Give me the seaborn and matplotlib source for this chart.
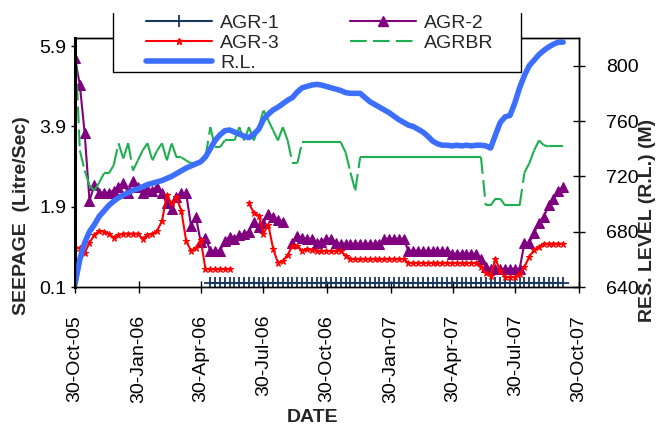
import numpy as np
import pandas as pd
import matplotlib
matplotlib.use("Agg")
import matplotlib.pyplot as plt
import matplotlib.dates as mdates
from matplotlib.collections import LineCollection
from matplotlib.lines import Line2D
from matplotlib.patches import Rectangle
import seaborn as sns

N = None
# weekly readings starting 30-Oct-2005
week_start = "2005-10-30"

agr1 = [N, N, N, N, N, N, N, N, N, N, N, N, N, N, N, N, N, N, N, N,
        N, N, N, N, N, N, N, N, 0.0, 0.0, 0.0, 0.0, 0.0, 0.0, 0.0, 0.0, 0.0, 0.0, 0.0, 0.0,
        0.0, 0.0, 0.0, 0.0, 0.0, 0.0, 0.0, 0.0, 0.0, 0.0, 0.0, 0.0, 0.0, 0.0, 0.0, 0.0, 0.0, 0.0, 0.0, 0.0,
        0.0, 0.0, 0.0, 0.0, 0.0, 0.0, 0.0, 0.0, 0.0, 0.0, 0.0, 0.0, 0.0, 0.0, 0.0, 0.0, 0.0, 0.0, 0.0, 0.0,
        0.0, 0.0, 0.0, 0.0, 0.0, 0.0, 0.0, 0.0, 0.0, 0.0, 0.0, 0.0, 0.0, 0.0, 0.0, 0.0, 0.0, 0.0, 0.0, 0.0,
        0.0, 0.0]

agr2 = [5.60, 4.93, 3.73, 2.05, 2.43, 2.25, 2.25, 2.25, 2.30, 2.40,
        2.48, 2.25, 2.55, 2.40, 2.23, 2.35, 2.30, 2.40, 2.23, 1.98,
        1.85, 2.15, 2.23, 2.23, 1.43, 1.65, 1.03, 1.13, 0.80, 0.80,
        0.80, 1.05, 1.15, 1.10, 1.20, 1.23, 1.28, 1.53, 1.40, 1.50,
        1.73, 1.65, 1.58, 1.53, N, 1.00, 1.18, 1.13, 1.10, 1.10,
        1.00, 1.03, 1.10, 1.10, 1.00, 0.98, 0.98, 0.98, 0.98, 0.98,
        0.98, 0.98, 0.98, 0.98, 1.10, 1.10, 1.10, 1.10, 1.10, 0.80,
        0.80, 0.80, 0.80, 0.80, 0.80, 0.80, 0.80, 0.80, 0.73, 0.73,
        0.73, 0.73, 0.73, 0.73, 0.60, 0.40, 0.35, 0.35, 0.35, 0.35,
        0.35, 0.35, 0.35, 1.00, 1.00, 1.25, 1.50, 1.65, 1.93, 2.08,
        2.30, 2.40]

agr3 = [0.88, 0.88, 0.75, 1.00, 1.20, 1.30, 1.28, 1.23, 1.13, 1.20,
        1.23, 1.23, 1.23, 1.23, 1.10, 1.20, 1.23, 1.30, 1.55, 2.18,
        1.98, 2.13, 1.80, 1.05, 0.80, 0.88, 1.08, 0.35, 0.35, 0.35,
        0.35, 0.35, 0.35, N, N, N, 1.98, 1.75, 1.68, 1.23,
        1.45, 0.85, 0.50, 0.55, 0.70, 0.93, 0.93, 0.80, 0.85, 0.83,
        0.80, 0.80, 0.80, 0.80, 0.80, 0.80, 0.68, 0.60, 0.60, 0.60,
        0.60, 0.60, 0.60, 0.60, 0.60, 0.60, 0.60, 0.60, 0.60, 0.50,
        0.50, 0.50, 0.50, 0.50, 0.50, 0.50, 0.50, 0.50, 0.50, 0.50,
        0.50, 0.50, 0.50, 0.50, 0.40, 0.25, 0.18, 0.60, 0.30, 0.15,
        0.15, 0.15, 0.23, 0.40, 0.65, 0.83, 0.90, 0.98, 0.98, 0.98,
        0.98, 0.98]

agrbr = [6.10, 3.30, 2.80, 2.43, 2.30, 2.50, 2.73, 2.73, 2.93, 3.48,
         3.10, 3.48, 2.80, 3.05, 3.30, 3.48, 3.05, 3.30, 3.48, 3.05,
         3.48, 3.13, 3.13, 3.05, 2.98, 2.98, 2.98, 3.13, 3.88, 3.38,
         3.38, 3.55, 3.55, 3.55, 3.88, 3.55, 3.88, 3.55, 3.88, 4.30,
         4.05, 3.80, 3.55, 3.88, 3.55, 2.98, 2.98, 3.50, 3.50, 3.50,
         3.50, 3.50, 3.50, 3.50, 3.50, 3.50, 3.25, 2.75, 2.30, 3.13,
         3.13, 3.13, 3.13, 3.13, 3.13, 3.13, 3.13, 3.13, 3.13, 3.13,
         3.13, 3.13, 3.13, 3.13, 3.13, 3.13, 3.13, 3.13, 3.13, 3.13,
         3.13, 3.13, 3.13, 3.13, 3.13, 1.93, 1.93, 2.10, 2.10, 1.93,
         1.93, 1.93, 1.93, 2.75, 2.98, 3.30, 3.55, 3.43, 3.40, 3.40,
         3.40, 3.40]

rl_level = [642, 660, 672, 680, 685, 691, 695, 699, 702, 704.5,
            706.5, 708, 710, 711, 712.5, 714, 715, 716, 717, 718.5,
            720, 722, 724, 726, 727.5, 729, 730.5, 734, 740, 746,
            750, 753, 753.5, 752, 750.5, 749, 748, 750.5, 754, 761,
            765, 768, 770, 772.5, 775, 777, 781, 784, 785, 786,
            786.5, 786, 785, 784, 783, 782, 780.5, 780, 780, 780,
            777, 774, 772, 770, 768, 766, 763.5, 761, 759, 757,
            756, 754, 752, 749, 745.5, 743.5, 742.5, 742.5, 742, 742.5,
            742, 742.5, 742, 742.5, 742.5, 742, 740.5, 750, 759, 763,
            764, 773, 784, 793, 800, 804, 808, 811, 813.5, 815.5,
            817, 817]

tick_labels = ["30-Oct-05", "30-Jan-06", "30-Apr-06", "30-Jul-06", "30-Oct-06",
               "30-Jan-07", "30-Apr-07", "30-Jul-07", "30-Oct-07"]
seep_ticks = [-0.1, 1.9, 3.9, 5.9]
seep_tick_labels = ["0.1", "1.9", "3.9", "5.9"]
rl_ticks = [640, 680, 720, 760, 800]

C_AGR1 = "#17375E"
C_AGR2 = "#800080"
C_AGR3 = "#FF0000"
C_AGRBR = "#1DAF50"
C_RL = "#3C6EFF"

sns.set_theme(style="white")
plt.rcParams["font.family"] = ["Liberation Sans", "DejaVu Sans"]

dates = pd.date_range(week_start, periods=len(rl_level), freq="7D")


def frame(vals):
    s = pd.Series(np.array(vals, dtype=float))
    df = pd.DataFrame({"date": dates, "value": s, "seg": s.isna().cumsum()})
    return df.dropna()


fig = plt.figure(figsize=(6.56, 4.28), dpi=100)
fig.patch.set_facecolor("white")
ax = fig.add_axes([75 / 656, 141 / 428, 504 / 656, 249 / 428])
ax2 = ax.twinx()

sns.lineplot(data=frame(agr1), x="date", y="value", units="seg", estimator=None,
             color=C_AGR1, lw=1.5, marker="+", ms=9, mew=1.3, mec=C_AGR1, ax=ax, legend=False)
sns.lineplot(data=frame(agr2), x="date", y="value", units="seg", estimator=None,
             color=C_AGR2, lw=1.5, marker="^", ms=7, mec=C_AGR2, mfc=C_AGR2, ax=ax, legend=False)
sns.lineplot(data=frame(agr3), x="date", y="value", units="seg", estimator=None,
             color=C_AGR3, lw=1.5, marker="*", ms=5, mec=C_AGR3, mfc=C_AGR3, ax=ax, legend=False)

# AGRBR: dash pattern restarts for every segment (as in the source chart)
gx = mdates.date2num(dates)
gy = np.array(agrbr, dtype=float)
segs = [[(gx[i], gy[i]), (gx[i + 1], gy[i + 1])] for i in range(len(gx) - 1)
        if not (np.isnan(gy[i]) or np.isnan(gy[i + 1]))]
lc = LineCollection(segs, colors=C_AGRBR, linewidths=1.5, linestyles=[(0, (8, 3))])
ax.add_collection(lc)

sns.lineplot(x=dates, y=np.array(rl_level, dtype=float), color=C_RL, lw=4,
             solid_capstyle="round", ax=ax2, legend=False)

ax.set_xlim(pd.Timestamp("2005-10-30"), pd.Timestamp("2007-10-30"))
ax.set_ylim(-0.1, 6.1)
ax2.set_ylim(640, 820)
ax.set_yticks(seep_ticks)
ax.set_yticklabels(seep_tick_labels)
ax2.set_yticks(rl_ticks)
ax.set_xticks(pd.to_datetime(tick_labels, format="%d-%b-%y"))
ax.xaxis.set_major_formatter(mdates.DateFormatter("%d-%b-%y"))

for a in (ax, ax2):
    a.set_xlabel("")
    a.set_ylabel("")
    for sp in a.spines.values():
        sp.set_color("black")
        sp.set_linewidth(1)
ax.spines["left"].set_linewidth(2.2)

ax.tick_params(axis="x", bottom=True, direction="inout", length=8, width=1, color="black",
               pad=16, labelsize=14, labelrotation=90, labelcolor="black")
ax.tick_params(axis="y", left=True, direction="out", length=3, width=1, color="black",
               pad=3, labelsize=14, labelcolor="black")
ax2.tick_params(axis="y", right=True, direction="inout", length=9, width=1, color="black",
                pad=15, labelsize=14, labelcolor="black")

fig.text(22 / 656, 1 - 216 / 428, "SEEPAGE  (Litre/Sec)", rotation=90, ha="center", va="center",
         fontsize=14, fontweight="bold")
fig.text(647 / 656, 1 - 220 / 428, "RES. LEVEL (R.L.) (M)", rotation=90, ha="center", va="center",
         fontsize=14, fontweight="bold")
fig.text(313 / 656, 1 - 417 / 428, "DATE", ha="center", va="center", fontsize=14, fontweight="bold")

# legend box (open at the top as in the source)
fig.add_artist(Rectangle((113 / 656, 1 - 72 / 428), 408 / 656, 72 / 428, transform=fig.transFigure,
                         facecolor="white", edgecolor="none", zorder=3))
fig.add_artist(Line2D(np.array([113, 113, 521, 521]) / 656, 1 - np.array([13, 72, 72, 13]) / 428,
                      transform=fig.transFigure, color="black", lw=1, zorder=4))

h_agr1 = Line2D([], [], color=C_AGR1, lw=1.5, marker="+", ms=9, mew=1.3)
h_agr2 = Line2D([], [], color=C_AGR2, lw=1.5, marker="^", ms=7)
h_agr3 = Line2D([], [], color=C_AGR3, lw=1.5, marker="*", ms=5)
h_agrbr = Line2D([], [], color=C_AGRBR, lw=1.5, dashes=(8, 3))
h_rl = Line2D([], [], color=C_RL, lw=4)
fig.legend([h_agr1, h_agr3, h_rl, h_agr2, h_agrbr], ["AGR-1", "AGR-3", "R.L.", "AGR-2", "AGRBR"],
           loc="upper left", bbox_to_anchor=(146 / 656, 1 - 14 / 428), ncol=2, frameon=False,
           borderpad=0, borderaxespad=0, handlelength=3.4, handletextpad=0.4, columnspacing=3.6,
           labelspacing=0.13, fontsize=14, numpoints=1)

fig.savefig("out.png", dpi=100, facecolor="white")
